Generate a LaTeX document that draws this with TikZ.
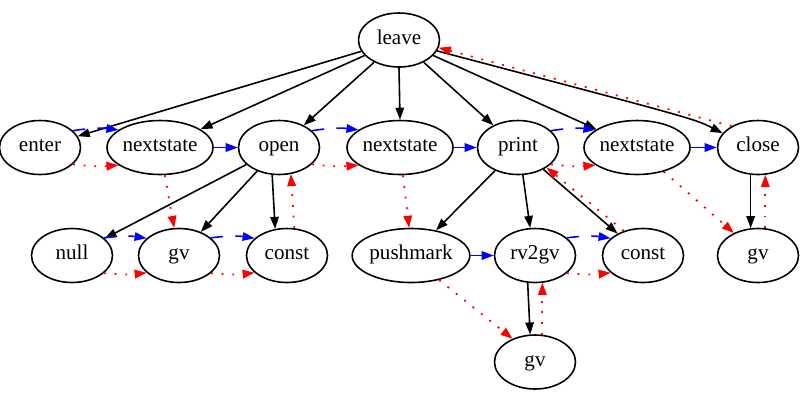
\documentclass[tikz,border=0pt]{standalone}
\usepackage{fontspec}
\setmainfont{Liberation Serif}
\usepackage{tikz}
\usetikzlibrary{arrows.meta, shapes.geometric}

\tikzset{
  op/.style={draw, ellipse, line width=0.9pt, inner sep=0pt,
    minimum width=1.62cm, minimum height=1.08cm,
    text height=0.68em, text depth=0.2em,
    font=\fontsize{12}{14}\selectfont},
  wideop/.style={op, minimum width=2.08cm},
  tree/.style={-{Triangle[length=2.4mm,width=1.7mm]}, line width=0.9pt},
  sib/.style={-{Triangle[length=2.4mm,width=1.7mm]}, line width=0.9pt, blue},
  longsib/.style={sib, dash pattern=on 7pt off 7pt},
  exec/.style={-{Triangle[length=2.4mm,width=1.7mm]}, line width=1pt, red,
    dash pattern=on 1.1pt off 5pt}
}

\begin{document}
\begin{tikzpicture}
              \useasboundingbox (0,0) rectangle (16,-8.04);

              % Ops of the tree
              \node[op] (leave) at (7.98,-0.80) {leave};

              \node[op] (enter) at (0.80,-2.95) {enter};
              \node[wideop] (ns1) at (3.20,-2.95) {nextstate};
              \node[op] (open) at (5.58,-2.95) {open};
              \node[wideop] (ns2) at (8.00,-2.95) {nextstate};
              \node[op] (print) at (10.36,-2.95) {print};
              \node[wideop] (ns3) at (12.74,-2.95) {nextstate};
              \node[op] (close) at (15.16,-2.95) {close};

              \node[op] (null) at (1.44,-5.11) {null};
              \node[op] (gv1) at (3.58,-5.11) {gv};
              \node[op] (const1) at (5.74,-5.11) {const};
              \node[op, minimum width=2.28cm] (pushmark) at (8.22,-5.11) {pushmark};
              \node[op] (rv2gv) at (10.70,-5.11) {rv2gv};
              \node[op] (const2) at (12.86,-5.11) {const};
              \node[op] (gv2) at (15.16,-5.11) {gv};

              \node[op] (gv3) at (10.70,-7.24) {gv};

              % Parent to child
              \draw[tree] (leave) -- (enter);
              \draw[tree] (leave) -- (ns1);
              \draw[tree] (leave) -- (open);
              \draw[tree] (leave.-90) -- (ns2.90);
              \draw[tree] (leave) -- (print);
              \draw[tree] (leave) -- (ns3);
              \draw[tree] (leave.-16) .. controls (13.9,-2.38) .. (close.158);
              \draw[tree] (open) -- (null);
              \draw[tree] (open) -- (gv1);
              \draw[tree] (open.-104) -- (const1.114);
              \draw[tree] (print) -- (pushmark);
              \draw[tree] (print.-80) -- (rv2gv.100);
              \draw[tree] (print) -- (const2);
              \draw[tree] (close.-105) -- (gv2.105);
              \draw[tree] (rv2gv.-105) -- (gv3.100);

              % Sibling links (blue)
              \draw[longsib] (enter.27) to[bend left=8] (ns1.157);
              \draw[sib] (ns1.east) -- (open.west);
              \draw[longsib] (open.27) to[bend left=8] (ns2.157);
              \draw[sib] (ns2.east) -- (print.west);
              \draw[longsib] (print.27) to[bend left=8] (ns3.157);
              \draw[sib] (ns3.east) -- (close.west);
              \draw[longsib] (null.29) to[bend left=8] (gv1.152);
              \draw[longsib] (gv1.29) to[bend left=8] (const1.152);
              \draw[sib] (pushmark.east) -- (rv2gv.west);
              \draw[longsib] (rv2gv.29) to[bend left=8] (const2.152);

              % Execution order (red)
              \draw[exec] (enter.-27) to[bend right=6] (ns1.-157);
              \draw[exec] (ns1.-80) -- (gv1.100);
              \draw[exec] (null.-29) to[bend right=6] (gv1.-152);
              \draw[exec] (gv1.-29) to[bend right=6] (const1.-152);
              \draw[exec] (const1.75) -- (open.-66);
              \draw[exec] (open.-27) to[bend right=6] (ns2.-157);
              \draw[exec] (ns2.-84) -- (pushmark.94);
              \draw[exec] (pushmark.-41) -- (gv3.134);
              \draw[exec] (gv3.75) -- (rv2gv.-75);
              \draw[exec] (rv2gv.-29) to[bend right=6] (const2.-152);
              \draw[exec] (const2.128) -- (print.-35);
              \draw[exec] (print.-27) to[bend right=6] (ns3.-157);
              \draw[exec] (ns3.-42) -- (gv2.137);
              \draw[exec] (gv2.75) -- (close.-75);
              \draw[exec] (close.141) -- (leave.-11);
            \end{tikzpicture}
\end{document}
